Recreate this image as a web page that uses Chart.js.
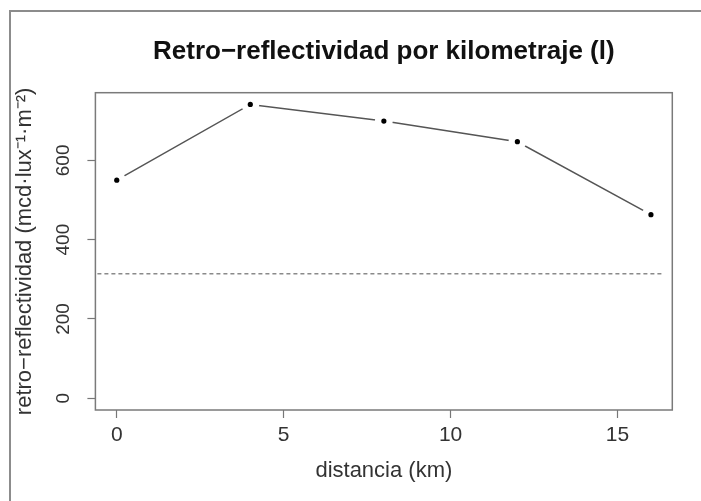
<!DOCTYPE html>
<html><head><meta charset="utf-8">
<script src="https://cdn.jsdelivr.net/npm/chart.js@4/dist/chart.umd.min.js"></script>
<style>html,body{margin:0;padding:0;background:#fff;}canvas{display:block;}</style>
</head><body>
<canvas id="c" width="701" height="501"></canvas>
<script>
const distanciaKm = [0, 4, 8, 12, 16];
const retroValues = [550, 741, 699, 647, 463];
const threshold = 314;
const xTicks = [0, 5, 10, 15];
const yTicks = [0, 200, 400, 600];
const titleText = 'Retro\u2212reflectividad por kilometraje (l)';
const xTitle = 'distancia (km)';
const yTitle = 'retro\u2212reflectividad (mcd\u00B7lux\u207B\u00B9\u00B7m\u207B\u00B2)';

const FONT = '"Liberation Sans", Arial, Helvetica, sans-serif';
const pts = distanciaKm.map((x, i) => ({x, y: retroValues[i]}));
const xMin0 = Math.min(...distanciaKm), xMax0 = Math.max(...distanciaKm);
const yMin0 = 0, yMax0 = Math.max(...retroValues);
const xPad = (xMax0 - xMin0) * 0.04, yPad = (yMax0 - yMin0) * 0.04;

const deco = {
  id: 'deco',
  beforeDraw(chart) {
    const ctx = chart.ctx;
    ctx.save();
    ctx.strokeStyle = '#8c8c8c';
    ctx.lineWidth = 2;
    ctx.beginPath();
    ctx.moveTo(10, 501); ctx.lineTo(10, 11); ctx.lineTo(701, 11);
    ctx.stroke();
    ctx.restore();
  },
  afterDatasetsDraw(chart) {
    const {ctx, chartArea: a, scales} = chart;
    ctx.save();
    const ty = scales.y.getPixelForValue(threshold);
    ctx.strokeStyle = '#8a8a8a';
    ctx.lineWidth = 1.3;
    ctx.setLineDash([4, 3]);
    ctx.beginPath(); ctx.moveTo(a.left + 2, ty); ctx.lineTo(a.right - 8, ty); ctx.stroke();
    ctx.setLineDash([]);
    ctx.strokeStyle = '#7a7a7a';
    ctx.lineWidth = 1.5;
    ctx.strokeRect(a.left, a.top, a.right - a.left, a.bottom - a.top);
    ctx.fillStyle = '#111';
    ctx.font = 'bold 26px ' + FONT;
    ctx.textAlign = 'center';
    ctx.textBaseline = 'middle';
    ctx.fillText(titleText, (a.left + a.right) / 2, 52);
    ctx.fillStyle = '#333';
    ctx.font = '19px ' + FONT;
    yTicks.forEach(v => {
      const py = scales.y.getPixelForValue(v);
      ctx.save();
      ctx.translate(63.5, py);
      ctx.rotate(-Math.PI / 2);
      ctx.fillText(String(v), 0, 0);
      ctx.restore();
    });
    ctx.restore();
  }
};

new Chart(document.getElementById('c'), {
  type: 'scatter',
  data: {
    datasets: [
      {data: pts, showLine: false, pointRadius: 2.6, pointBackgroundColor: '#000', pointBorderWidth: 0, order: 1},
      {data: pts, showLine: false, pointRadius: 9, pointBackgroundColor: '#fff', pointBorderWidth: 0, order: 2},
      {data: pts, showLine: true, borderColor: '#555', borderWidth: 1.5, pointRadius: 0, tension: 0, order: 3}
    ]
  },
  options: {
    responsive: false,
    animation: false,
    events: [],
    layout: {padding: {left: 0, right: 28.7, top: 92.7, bottom: 0}},
    plugins: {legend: {display: false}, title: {display: false}, tooltip: {enabled: false}},
    scales: {
      x: {
        type: 'linear',
        min: xMin0 - xPad, max: xMax0 + xPad,
        afterBuildTicks: s => { s.ticks = xTicks.map(v => ({value: v})); },
        afterFit: s => { s.height = 91; },
        grid: {drawOnChartArea: false, drawTicks: true, tickLength: 8, tickColor: '#777', tickWidth: 1.2},
        border: {display: false},
        ticks: {color: '#333', font: {family: FONT, size: 21}, padding: 5, maxRotation: 0, callback: v => String(v)},
        title: {display: true, text: xTitle, color: '#333', font: {family: FONT, size: 22}, padding: {top: 0, bottom: 16.8}}
      },
      y: {
        type: 'linear',
        min: yMin0 - yPad, max: yMax0 + yPad,
        afterBuildTicks: s => { s.ticks = yTicks.map(v => ({value: v})); },
        afterFit: s => { s.width = 95.4; },
        grid: {drawOnChartArea: false, drawTicks: true, tickLength: 8, tickColor: '#777', tickWidth: 1.2},
        border: {display: false},
        ticks: {color: 'rgba(0,0,0,0)', font: {family: FONT, size: 19}},
        title: {display: true, text: yTitle, color: '#333', font: {family: FONT, size: 22}, padding: {top: 11.8, bottom: 0}}
      }
    }
  },
  plugins: [deco]
});
</script>
</body></html>
